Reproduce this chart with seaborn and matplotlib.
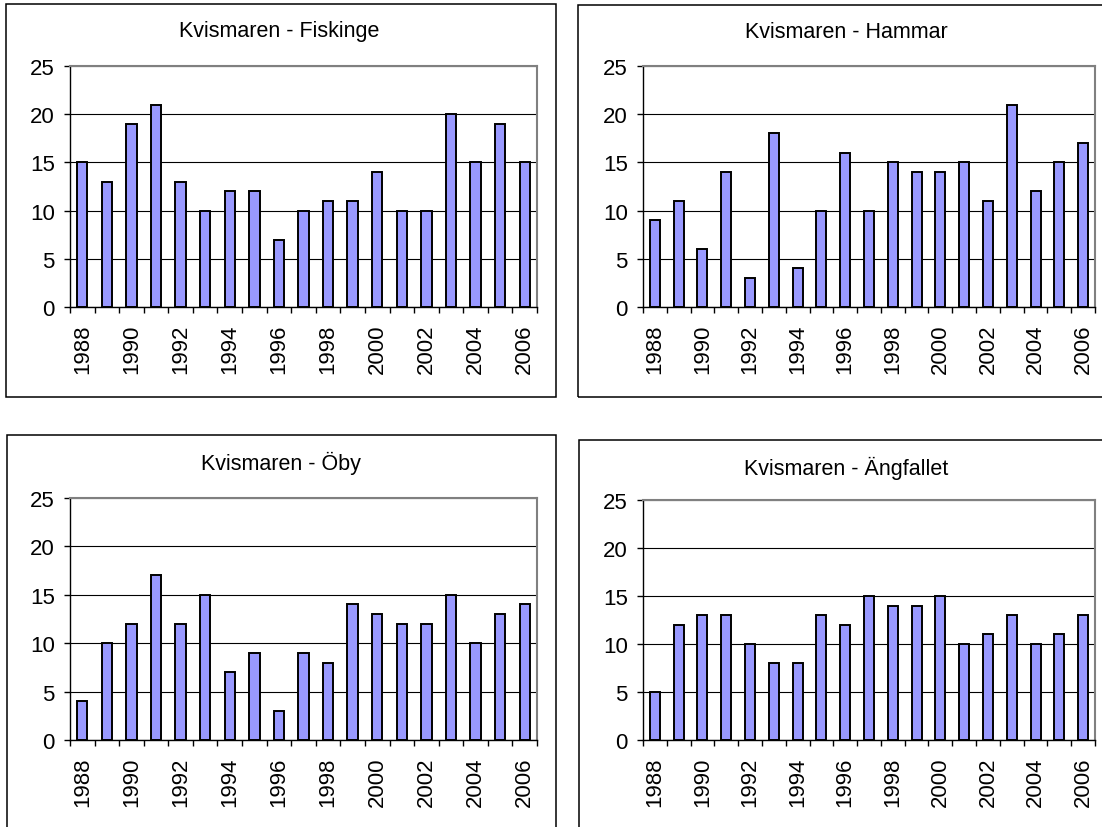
import numpy as np
import pandas as pd
import matplotlib
matplotlib.use("Agg")
import matplotlib.pyplot as plt
from matplotlib.patches import Rectangle
import seaborn as sns

# Annual counts per site, 1988-2006
years = list(range(1988, 2007))
fiskinge = [15, 13, 19, 21, 13, 10, 12, 12, 7, 10, 11, 11, 14, 10, 10, 20, 15, 19, 15]
hammar = [9, 11, 6, 14, 3, 18, 4, 10, 16, 10, 15, 14, 14, 15, 11, 21, 12, 15, 17]
oby = [4, 10, 12, 17, 12, 15, 7, 9, 3, 9, 8, 14, 13, 12, 12, 15, 10, 13, 14]
angfallet = [5, 12, 13, 13, 10, 8, 8, 13, 12, 15, 14, 14, 15, 10, 11, 13, 10, 11, 13]
titles = ["Kvismaren - Fiskinge", "Kvismaren - Hammar", "Kvismaren - Öby", "Kvismaren - Ängfallet"]
series = [fiskinge, hammar, oby, angfallet]

sns.set_style("white")
plt.rcParams["font.family"] = ["Liberation Sans", "DejaVu Sans"]

W, H = 1102, 828
fig = plt.figure(figsize=(W / 100, H / 100), dpi=100)
fig.patch.set_facecolor("white")


def px_rect(x0, y0, x1, y1):
    """Pixel box (top-left origin) -> figure fraction [left, bottom, width, height]."""
    return [x0 / W, 1 - y1 / H, (x1 - x0) / W, (y1 - y0) / H]


# chart frames, plot areas and title centres in pixels
frames = [(6, 5, 556, 398), (578, 6, 1114, 398), (7, 436, 556, 860), (579, 441, 1114, 860)]
areas = [(70, 67, 537, 308), (643, 67, 1095, 308), (70, 499, 537, 741), (643, 501, 1095, 741)]
title_pos = [(279, 31), (846, 33), (281, 463), (846, 468)]

for frame in frames:
    x0, y0, x1, y1 = frame
    fig.add_artist(Rectangle((x0 / W, 1 - y1 / H), (x1 - x0) / W, (y1 - y0) / H,
                             transform=fig.transFigure, fill=False,
                             edgecolor="black", linewidth=1.1, clip_on=False))

for vals, title, area, tpos in zip(series, titles, areas, title_pos):
    ax = fig.add_axes(px_rect(*area))
    df = pd.DataFrame({"year": [str(y) for y in years], "count": vals})
    sns.barplot(data=df, x="year", y="count", ax=ax, color="#9999FF",
                saturation=1, width=0.42, edgecolor="black", linewidth=1.4, zorder=3)
    ax.set_xlim(-0.5, len(years) - 0.5)
    ax.set_ylim(0, 25)
    ax.set_yticks(range(0, 26, 5))
    ax.yaxis.grid(True, color="black", linewidth=0.8, zorder=0)
    ax.set_axisbelow(True)
    ax.set_xlabel("")
    ax.set_ylabel("")

    ax.set_xticks(range(0, len(years), 2))
    ax.set_xticklabels([str(y) for y in years[::2]], rotation=90)
    ax.set_xticks(np.arange(-0.5, len(years), 1), minor=True)
    ax.tick_params(axis="x", which="major", length=0, pad=12, labelsize=16, colors="black")
    ax.tick_params(axis="x", which="minor", length=4, width=1, direction="out", color="black")
    ax.tick_params(axis="y", which="major", length=4, width=1, direction="out",
                   pad=7, labelsize=16, colors="black")
    ax.tick_params(left=True, bottom=True, which="both")

    for side in ("left", "bottom"):
        ax.spines[side].set_color("black")
        ax.spines[side].set_linewidth(1.0)
    for side in ("top", "right"):
        ax.spines[side].set_visible(True)
        ax.spines[side].set_color("#808080")
        ax.spines[side].set_linewidth(1.5)

    fig.text(tpos[0] / W, 1 - tpos[1] / H, title, ha="center", va="center",
             fontsize=15.5, color="black")

fig.savefig("out.png", dpi=100)
